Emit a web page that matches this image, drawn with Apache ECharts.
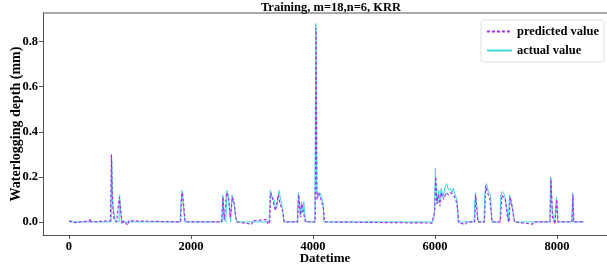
<!DOCTYPE html>
<html>
<head>
<meta charset="utf-8">
<script src="https://cdn.jsdelivr.net/npm/echarts@6/dist/echarts.min.js"></script>
<style>
  html, body { margin: 0; padding: 0; background: #fff; }
  #chart { width: 607px; height: 271px; }
</style>
</head>
<body>
<div id="chart"></div>
<script>
// tick labels
var xTicks = [0, 2000, 4000, 6000, 8000];
var yTicks = [0, 0.2, 0.4, 0.6, 0.8];

// actual value (cyan), [time index, depth]
var actualPts = [
  [0, 0], [690, 0], [700, 0.28], [715, 0.08], [760, 0], [820, 0], [830, 0.12], [850, 0.03], [870, 0],
  [1820, 0], [1840, 0.10], [1855, 0.14], [1880, 0.05], [1900, 0],
  [2510, 0], [2520, 0.12], [2540, 0.02], [2570, 0], [2590, 0.14], [2610, 0.12], [2630, 0.04], [2650, 0],
  [2670, 0.12], [2700, 0.09], [2730, 0.02], [2750, 0],
  [3280, 0], [3300, 0.14], [3330, 0.11], [3360, 0.10], [3390, 0.06], [3410, 0.07], [3440, 0.14],
  [3470, 0.10], [3500, 0.06], [3520, 0],
  [3740, 0], [3760, 0.13], [3790, 0.03], [3810, 0.09], [3830, 0.04], [3850, 0.09], [3870, 0.02], [3890, 0],
  [4030, 0], [4045, 0.88], [4060, 0.13], [4080, 0.12], [4110, 0.13], [4140, 0.11], [4165, 0.08], [4180, 0],
  [5960, 0], [5990, 0.03], [6005, 0.24], [6020, 0.12], [6040, 0.08], [6060, 0.14], [6080, 0.10], [6100, 0.15],
  [6130, 0.11], [6160, 0.15], [6190, 0.17], [6220, 0.14], [6250, 0.15], [6280, 0.13], [6300, 0.15],
  [6330, 0.12], [6360, 0.10], [6380, 0],
  [6640, 0], [6660, 0.13], [6690, 0.05], [6710, 0],
  [6800, 0], [6820, 0.14], [6840, 0.17], [6870, 0.14], [6910, 0.12], [6930, 0],
  [7060, 0], [7080, 0.12], [7100, 0.135], [7140, 0.12], [7180, 0.05], [7200, 0], [7220, 0.12], [7250, 0.09],
  [7290, 0.02], [7310, 0],
  [7880, 0], [7895, 0.2], [7920, 0.05], [7960, 0], [7990, 0.11], [8010, 0],
  [8240, 0], [8255, 0.13], [8270, 0], [8440, 0]
];

// predicted value (purple dashed)
var predictedPts = [
  [0, 0.005], [100, -0.003], [340, 0.005], [350, 0.015], [360, 0], [680, 0.005], [695, 0.30], [710, 0.12],
  [730, 0.02], [780, 0], [810, 0.002], [825, 0.11], [845, 0.06], [870, -0.01], [900, 0.005], [960, -0.015],
  [980, 0.005], [1830, 0], [1845, 0.12], [1860, 0.13], [1885, 0.06], [1905, 0],
  [2500, 0], [2525, 0.11], [2545, 0.01], [2585, 0.13], [2620, 0.10], [2645, 0.02], [2680, 0.11],
  [2710, 0.08], [2740, 0.01], [2760, 0], [3000, -0.01], [3010, 0.005], [3250, 0.01], [3260, -0.01],
  [3290, 0], [3305, 0.13], [3340, 0.10], [3380, 0.05], [3400, 0.07], [3430, 0.12], [3460, 0.08],
  [3500, 0.05], [3530, 0], [3750, 0], [3765, 0.12], [3800, 0.02], [3815, 0.08], [3845, 0.08], [3875, 0],
  [4035, 0], [4050, 0.86], [4065, 0.10], [4090, 0.13], [4130, 0.10], [4170, 0.06], [4190, 0],
  [5950, -0.005], [5995, 0.05], [6010, 0.20], [6030, 0.08], [6050, 0.12], [6080, 0.07], [6100, 0.13],
  [6140, 0.10], [6180, 0.13], [6220, 0.12], [6260, 0.13], [6300, 0.12], [6340, 0.10], [6370, 0.06],
  [6390, -0.005], [6500, -0.01], [6520, 0], [6650, 0], [6665, 0.12], [6700, 0],
  [6810, 0], [6830, 0.16], [6860, 0.13], [6900, 0.10], [6935, 0],
  [7070, 0], [7095, 0.12], [7150, 0.10], [7190, 0.02], [7215, 0], [7230, 0.11], [7270, 0.06], [7300, 0],
  [7600, -0.01], [7620, 0], [7885, 0], [7900, 0.19], [7925, 0.02], [7965, -0.01], [7995, 0.10], [8015, 0],
  [8245, 0], [8260, 0.12], [8275, 0], [8440, 0]
];

var font = 'Liberation Serif';

var myChart = echarts.init(document.getElementById('chart'), null, {
    renderer: 'canvas'
});

var option = {
    animation: false,
    title: {
        text: 'Training, m=18,n=6, KRR',
        left: 326,
        textAlign: 'center',
        top: -4,
        textStyle: {
            fontFamily: font,
            fontWeight: 'bold',
            fontSize: 12.5,
            color: '#000'
        }
    },
    legend: {
        orient: 'vertical',
        right: 3,
        top: 20,
        itemWidth: 25,
        itemHeight: 10,
        itemGap: 6,
        padding: [5, 5, 5, 5],
        borderColor: '#e0e0e0',
        borderWidth: 1,
        borderRadius: 3,
        itemStyle: { opacity: 0 },
        textStyle: {
            fontFamily: font,
            fontWeight: 'bold',
            fontSize: 12.5,
            color: '#000'
        },
        data: ['predicted value', 'actual value']
    },
    grid: {
        left: 43,
        right: 0,
        top: 13,
        bottom: 36,
        outerBoundsMode: 'none'
    },
    xAxis: {
        type: 'value',
        min: -426,
        max: 8818,
        name: 'Datetime',
        nameLocation: 'middle',
        nameGap: 17,
        nameMoveOverlap: false,
        nameTextStyle: {
            fontFamily: font,
            fontWeight: 'bold',
            fontSize: 13,
            color: '#000'
        },
        axisLine: { onZero: false, lineStyle: { color: '#555', width: 1 } },
        axisTick: { customValues: xTicks, length: 4, lineStyle: { color: '#555' } },
        axisLabel: {
            customValues: xTicks,
            fontFamily: font,
            fontWeight: 'bold',
            fontSize: 12.5,
            color: '#000',
            margin: 5,
            formatter: function (v) { return String(v); }
        },
        splitLine: { show: false }
    },
    yAxis: {
        type: 'value',
        min: -0.058,
        max: 0.927,
        name: 'Waterlogging depth (mm)',
        nameLocation: 'middle',
        nameGap: 20,
        nameMoveOverlap: false,
        nameTextStyle: {
            fontFamily: font,
            fontWeight: 'bold',
            fontSize: 14,
            color: '#000'
        },
        axisLine: { show: true, onZero: false, lineStyle: { color: '#555', width: 1 } },
        axisTick: { show: true, customValues: yTicks, length: 4, lineStyle: { color: '#555' } },
        axisLabel: {
            customValues: yTicks,
            fontFamily: font,
            fontWeight: 'bold',
            fontSize: 12.5,
            color: '#000',
            margin: 5,
            formatter: function (v) { return v.toFixed(1); }
        },
        splitLine: { show: false }
    },
    series: [
        {
            name: 'predicted value',
            type: 'line',
            data: predictedPts,
            showSymbol: false,
            symbol: 'none',
            z: 3,
            lineStyle: { color: '#a030f5', width: 1.2, type: [3, 2] },
            itemStyle: { color: '#a030f5' }
        },
        {
            name: 'actual value',
            type: 'line',
            data: actualPts,
            showSymbol: false,
            symbol: 'none',
            z: 2,
            lineStyle: { color: '#3fd7e0', width: 1 },
            itemStyle: { color: '#3fd7e0' }
        }
    ],
    graphic: [
        {
            type: 'line',
            shape: { x1: 43, y1: 13, x2: 607, y2: 13 },
            style: { stroke: '#555', lineWidth: 1 }
        }
    ]
};

myChart.setOption(option);
</script>
</body>
</html>
